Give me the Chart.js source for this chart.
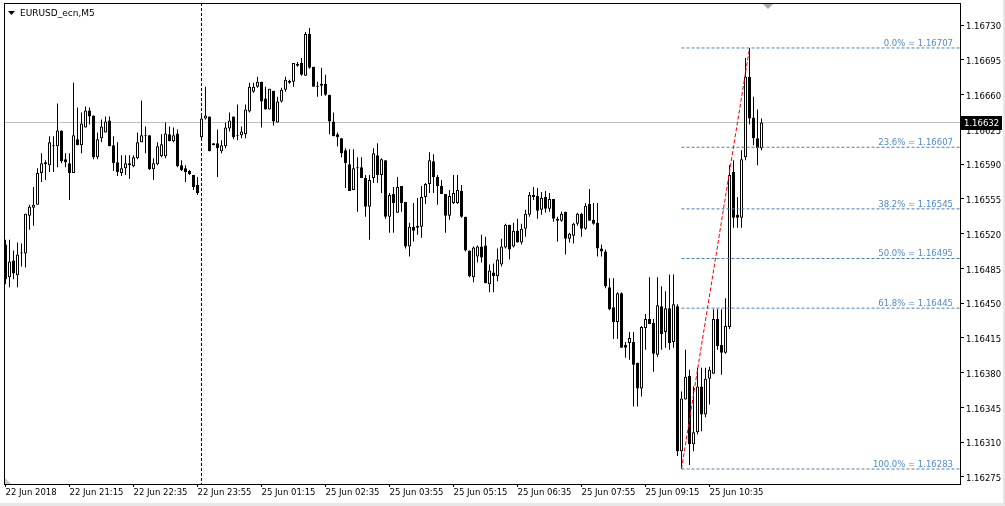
<!DOCTYPE html>
<html>
<head>
<meta charset="utf-8">
<script src="https://cdn.jsdelivr.net/npm/chart.js@4.4.1/dist/chart.umd.min.js"></script>
<style>
  html, body { margin: 0; padding: 0; background: #e6e6e6; }
  #wrap { position: absolute; left: 0; top: 0; width: 1003px; height: 503px; background: #fff; }
</style>
</head>
<body>
<div id="wrap"><canvas id="chart"></canvas></div>
<script>
const symbol = "EURUSD_ecn,M5";

// M5 bars, 22 Jun 19:55 .. 25 Jun 11:40
const open = [
  1.16509,1.16476,1.16493,1.16478,1.16501,1.16500,1.16538,1.16546,1.16549,1.16581,
  1.16590,1.16589,1.16609,1.16608,1.16624,1.16595,1.16591,1.16581,1.16615,1.16609,
  1.16627,1.16644,1.16639,1.16597,1.16616,1.16622,1.16634,1.16609,1.16592,1.16581,
  1.16586,1.16591,1.16588,1.16596,1.16612,1.16619,1.16619,1.16585,1.16590,1.16598,
  1.16598,1.16620,1.16613,1.16621,1.16589,1.16586,1.16583,1.16579,1.16569,1.16617,
  1.16636,1.16638,1.16611,1.16611,1.16603,1.16608,1.16626,1.16638,1.16619,1.16619,
  1.16620,1.16643,1.16663,1.16668,1.16673,1.16656,1.16645,1.16664,1.16632,1.16653,
  1.16665,1.16672,1.16673,1.16691,1.16692,1.16679,1.16721,1.16688,1.16669,1.16669,
  1.16671,1.16660,1.16633,1.16620,1.16616,1.16604,1.16590,1.16564,1.16587,1.16587,
  1.16576,1.16547,1.16576,1.16599,1.16579,1.16594,1.16537,1.16560,1.16541,1.16568,
  1.16552,1.16507,1.16527,1.16526,1.16527,1.16557,1.16570,1.16593,1.16577,1.16568,
  1.16560,1.16538,1.16551,1.16551,1.16563,1.16537,1.16503,1.16476,1.16497,1.16507,
  1.16508,1.16469,1.16481,1.16477,1.16489,1.16506,1.16529,1.16507,1.16523,1.16511,
  1.16525,1.16539,1.16557,1.16558,1.16544,1.16557,1.16545,1.16555,1.16535,1.16533,
  1.16542,1.16515,1.16518,1.16530,1.16540,1.16525,1.16550,1.16534,1.16531,1.16505,
  1.16502,1.16466,1.16446,1.16431,1.16460,1.16408,1.16410,1.16411,1.16390,1.16364,
  1.16425,1.16434,1.16430,1.16398,1.16447,1.16421,1.16445,1.16411,1.16447,1.16301,
  1.16353,1.16377,1.16308,1.16320,1.16366,1.16338,1.16374,1.16379,1.16434,1.16408,
  1.16400,1.16426,1.16582,1.16539,1.16536,1.16597,1.16678,1.16637,1.16616,1.16606
];
const high = [
  1.16514,1.16514,1.16503,1.16511,1.16510,1.16540,1.16549,1.16567,1.16586,1.16601,
  1.16594,1.16618,1.16618,1.16651,1.16624,1.16601,1.16601,1.16672,1.16647,1.16642,
  1.16648,1.16647,1.16639,1.16622,1.16635,1.16638,1.16638,1.16618,1.16612,1.16599,
  1.16599,1.16599,1.16599,1.16622,1.16654,1.16628,1.16619,1.16596,1.16612,1.16620,
  1.16632,1.16628,1.16627,1.16625,1.16594,1.16589,1.16584,1.16579,1.16577,1.16640,
  1.16668,1.16638,1.16611,1.16625,1.16614,1.16632,1.16642,1.16638,1.16650,1.16628,
  1.16650,1.16672,1.16672,1.16678,1.16673,1.16668,1.16666,1.16664,1.16658,1.16667,
  1.16678,1.16675,1.16692,1.16693,1.16697,1.16723,1.16727,1.16688,1.16673,1.16687,
  1.16680,1.16660,1.16642,1.16622,1.16616,1.16606,1.16605,1.16605,1.16597,1.16597,
  1.16579,1.16579,1.16606,1.16611,1.16596,1.16594,1.16561,1.16567,1.16577,1.16568,
  1.16552,1.16531,1.16551,1.16556,1.16568,1.16571,1.16602,1.16600,1.16579,1.16574,
  1.16560,1.16564,1.16579,1.16579,1.16569,1.16537,1.16503,1.16507,1.16508,1.16519,
  1.16517,1.16489,1.16490,1.16505,1.16515,1.16530,1.16529,1.16531,1.16535,1.16530,
  1.16544,1.16562,1.16567,1.16566,1.16562,1.16563,1.16561,1.16555,1.16537,1.16542,
  1.16542,1.16521,1.16531,1.16541,1.16541,1.16551,1.16565,1.16551,1.16551,1.16509,
  1.16504,1.16475,1.16475,1.16461,1.16461,1.16411,1.16421,1.16421,1.16390,1.16427,
  1.16439,1.16476,1.16434,1.16476,1.16467,1.16462,1.16479,1.16479,1.16449,1.16361,
  1.16403,1.16383,1.16366,1.16385,1.16385,1.16385,1.16386,1.16444,1.16444,1.16444,
  1.16455,1.16589,1.16594,1.16557,1.16604,1.16697,1.16707,1.16658,1.16645,1.16636
];
const low = [
  1.16469,1.16466,1.16474,1.16466,1.16487,1.16486,1.16524,1.16528,1.16549,1.16572,
  1.16574,1.16582,1.16582,1.16587,1.16591,1.16587,1.16554,1.16581,1.16609,1.16601,
  1.16627,1.16630,1.16595,1.16595,1.16612,1.16622,1.16608,1.16583,1.16578,1.16578,
  1.16579,1.16575,1.16587,1.16595,1.16612,1.16601,1.16584,1.16574,1.16589,1.16597,
  1.16596,1.16613,1.16612,1.16587,1.16583,1.16572,1.16579,1.16564,1.16559,1.16615,
  1.16635,1.16603,1.16609,1.16577,1.16601,1.16606,1.16623,1.16615,1.16614,1.16616,
  1.16616,1.16642,1.16662,1.16667,1.16627,1.16645,1.16645,1.16629,1.16632,1.16652,
  1.16663,1.16671,1.16668,1.16688,1.16679,1.16679,1.16686,1.16668,1.16658,1.16659,
  1.16659,1.16620,1.16618,1.16608,1.16597,1.16566,1.16563,1.16564,1.16542,1.16576,
  1.16537,1.16514,1.16571,1.16571,1.16561,1.16535,1.16521,1.16521,1.16541,1.16542,
  1.16505,1.16497,1.16512,1.16519,1.16516,1.16550,1.16561,1.16561,1.16549,1.16560,
  1.16521,1.16534,1.16550,1.16550,1.16536,1.16502,1.16476,1.16471,1.16491,1.16491,
  1.16470,1.16461,1.16461,1.16472,1.16487,1.16505,1.16494,1.16506,1.16511,1.16509,
  1.16517,1.16537,1.16554,1.16535,1.16539,1.16541,1.16542,1.16532,1.16512,1.16532,
  1.16499,1.16511,1.16510,1.16528,1.16517,1.16524,1.16533,1.16529,1.16497,1.16497,
  1.16465,1.16443,1.16414,1.16414,1.16405,1.16395,1.16393,1.16346,1.16346,1.16356,
  1.16403,1.16429,1.16381,1.16396,1.16403,1.16405,1.16403,1.16405,1.16296,1.16283,
  1.16353,1.16287,1.16301,1.16318,1.16321,1.16335,1.16348,1.16379,1.16403,1.16378,
  1.16399,1.16424,1.16526,1.16526,1.16526,1.16594,1.16630,1.16609,1.16589,1.16604
];
const close = [
  1.16474,1.16492,1.16480,1.16499,1.16500,1.16540,1.16547,1.16549,1.16581,1.16591,
  1.16592,1.16612,1.16608,1.16624,1.16593,1.16592,1.16581,1.16619,1.16609,1.16631,
  1.16644,1.16638,1.16597,1.16615,1.16628,1.16633,1.16608,1.16591,1.16582,1.16586,
  1.16591,1.16589,1.16597,1.16612,1.16619,1.16618,1.16585,1.16591,1.16608,1.16610,
  1.16621,1.16613,1.16619,1.16588,1.16584,1.16582,1.16580,1.16567,1.16561,1.16636,
  1.16639,1.16603,1.16609,1.16606,1.16609,1.16627,1.16634,1.16617,1.16618,1.16623,
  1.16645,1.16668,1.16668,1.16673,1.16653,1.16645,1.16666,1.16633,1.16653,1.16665,
  1.16675,1.16674,1.16692,1.16689,1.16680,1.16721,1.16687,1.16668,1.16668,1.16671,
  1.16660,1.16633,1.16618,1.16617,1.16601,1.16591,1.16563,1.16586,1.16586,1.16576,
  1.16547,1.16574,1.16601,1.16579,1.16595,1.16537,1.16559,1.16551,1.16567,1.16551,
  1.16507,1.16527,1.16523,1.16528,1.16557,1.16570,1.16594,1.16577,1.16568,1.16560,
  1.16538,1.16558,1.16561,1.16564,1.16537,1.16503,1.16477,1.16506,1.16507,1.16496,
  1.16470,1.16483,1.16477,1.16494,1.16507,1.16529,1.16504,1.16523,1.16511,1.16525,
  1.16540,1.16559,1.16559,1.16543,1.16556,1.16545,1.16555,1.16535,1.16533,1.16540,
  1.16515,1.16520,1.16530,1.16540,1.16525,1.16548,1.16533,1.16530,1.16505,1.16502,
  1.16467,1.16444,1.16431,1.16460,1.16405,1.16405,1.16415,1.16388,1.16364,1.16426,
  1.16434,1.16429,1.16399,1.16448,1.16419,1.16445,1.16410,1.16449,1.16301,1.16354,
  1.16376,1.16308,1.16320,1.16366,1.16338,1.16374,1.16383,1.16434,1.16407,1.16400,
  1.16427,1.16579,1.16536,1.16536,1.16595,1.16678,1.16636,1.16616,1.16606,1.16632
];

const timeTicks = [0, 16, 32, 48, 64, 80, 96, 112, 128, 144, 160, 176];
const timeLabels = [
  "22 Jun 2018", "22 Jun 21:15", "22 Jun 22:35", "22 Jun 23:55",
  "25 Jun 01:15", "25 Jun 02:35", "25 Jun 03:55", "25 Jun 05:15",
  "25 Jun 06:35", "25 Jun 07:55", "25 Jun 09:15", "25 Jun 10:35"
];
const dayBreak = 49; // first bar of 25 Jun

const priceTicks = [
  1.16275, 1.16310, 1.16345, 1.16380, 1.16415, 1.16450, 1.16485,
  1.16520, 1.16555, 1.16590, 1.16625, 1.16660, 1.16695, 1.16730
];

const fibPct = ["0.0%", "23.6%", "38.2%", "50.0%", "61.8%", "100.0%"];
const fibPrice = [1.16707, 1.16607, 1.16545, 1.16495, 1.16445, 1.16283];
const fibFrom = 169; // bar of the low
const fibTo = 186;   // bar of the high

const X_MIN = -0.375, X_MAX = 238.625;
const Y_MIN = 1.162679, Y_MAX = 1.167523;
const FONT = "'DejaVu Sans', sans-serif";
const last = close.length - 1;

const bodies = open.map((o, i) => ({ x: i, y: [Math.min(o, close[i]), Math.max(o, close[i])] }));
const wicks = open.map((o, i) => ({ x: i, y: [low[i], high[i]] }));
const bodyFill = open.map((o, i) => close[i] >= o ? '#ffffff' : '#000000');

const datasets = [
  {
    type: 'line', order: 0,
    data: [{ x: fibFrom, y: low[fibFrom] }, { x: fibTo, y: high[fibTo] }],
    borderColor: '#ff0000', borderWidth: 1, borderDash: [4, 2],
    pointRadius: 0, fill: false
  },
  ...fibPrice.map(p => ({
    type: 'line', order: 0,
    data: [{ x: fibFrom, y: p }, { x: X_MAX, y: p }],
    borderColor: '#4a7fb3', borderWidth: 1, borderDash: [3, 2],
    pointRadius: 0, fill: false
  })),
  {
    order: 1, data: bodies, grouped: false, barThickness: 3, inflateAmount: 0,
    backgroundColor: bodyFill, borderColor: '#000', borderWidth: 1,
    borderSkipped: false, minBarLength: 1
  },
  {
    order: 2, data: wicks, grouped: false, barThickness: 1, inflateAmount: 0,
    backgroundColor: '#000', borderWidth: 0
  }
];

const mt4Decor = {
  id: 'mt4Decor',
  beforeDraw(chart) {
    const ctx = chart.ctx;
    ctx.save();
    ctx.fillStyle = '#fff';
    ctx.fillRect(0, 0, chart.width, chart.height);
    ctx.restore();
  },
  beforeDatasetsDraw(chart) {
    const { ctx, chartArea: a, scales: { x, y } } = chart;
    ctx.save();
    // bid line
    const py = Math.floor(y.getPixelForValue(close[last])) + 0.5;
    ctx.strokeStyle = '#c0c0c0';
    ctx.lineWidth = 1;
    ctx.beginPath(); ctx.moveTo(a.left, py); ctx.lineTo(a.right, py); ctx.stroke();
    // period separator
    const sx = Math.floor(x.getPixelForValue(dayBreak)) + 0.5;
    ctx.strokeStyle = '#000';
    ctx.setLineDash([3, 2]);
    ctx.beginPath(); ctx.moveTo(sx, a.top); ctx.lineTo(sx, a.bottom); ctx.stroke();
    ctx.restore();
  },
  afterDraw(chart) {
    const { ctx, chartArea: a, scales: { y } } = chart;
    ctx.save();
    // frame
    ctx.strokeStyle = '#000';
    ctx.lineWidth = 1;
    ctx.strokeRect(a.left + 0.5, a.top + 0.5, a.right - a.left, a.bottom - a.top);

    // fibo labels
    ctx.font = '8.5px ' + FONT;
    ctx.fillStyle = '#4f8bc9';
    ctx.textAlign = 'right';
    ctx.textBaseline = 'alphabetic';
    fibPrice.forEach((p, k) => {
      const fy = y.getPixelForValue(p);
      ctx.fillText(fibPct[k] + ' = ' + p.toFixed(5), a.right - 7, fy - 2);
    });

    // title
    ctx.fillStyle = '#000';
    ctx.beginPath();
    ctx.moveTo(8, 11); ctx.lineTo(15, 11); ctx.lineTo(11.5, 15); ctx.closePath(); ctx.fill();
    ctx.font = '9px ' + FONT;
    ctx.textAlign = 'left';
    ctx.textBaseline = 'middle';
    ctx.fillText(symbol, 20, 13.5);

    // bid label
    ctx.font = '8.5px ' + FONT;
    const py = Math.floor(y.getPixelForValue(close[last]));
    ctx.fillStyle = '#000';
    ctx.fillRect(a.right + 1, py - 6, chart.width - a.right - 2, 14);
    ctx.fillStyle = '#fff';
    ctx.fillText(close[last].toFixed(5), a.right + 4, py + 1.5);

    // shift marker and scroll corner
    ctx.fillStyle = '#a8a8a8';
    ctx.beginPath();
    ctx.moveTo(763, a.top + 1); ctx.lineTo(773, a.top + 1); ctx.lineTo(768, a.top + 6); ctx.closePath(); ctx.fill();
    ctx.fillStyle = '#c8c8c8';
    ctx.beginPath();
    ctx.moveTo(a.left + 1, a.bottom - 6); ctx.lineTo(a.left + 1, a.bottom); ctx.lineTo(a.left + 7, a.bottom); ctx.closePath(); ctx.fill();
    ctx.restore();
  }
};

new Chart(document.getElementById('chart'), {
  type: 'bar',
  data: { datasets: datasets },
  plugins: [mt4Decor],
  options: {
    responsive: true,
    maintainAspectRatio: false,
    animation: false,
    events: [],
    layout: { padding: { left: 4, top: 3, right: 0, bottom: 0 } },
    plugins: { legend: { display: false }, tooltip: { enabled: false } },
    scales: {
      x: {
        type: 'linear', min: X_MIN, max: X_MAX, offset: false, bounds: 'data',
        grid: { display: true, drawOnChartArea: false, drawTicks: true, tickLength: 3, color: '#000', offset: false },
        border: { display: false },
        afterBuildTicks: s => { s.ticks = timeTicks.map(v => ({ value: v })); },
        afterFit: s => { s.height = 19; s.paddingLeft = 0; s.paddingRight = 0; },
        ticks: {
          autoSkip: false, maxRotation: 0, minRotation: 0, align: 'start', padding: 1,
          color: '#000', font: { family: FONT, size: 8.5 },
          callback: (v, idx) => timeLabels[idx]
        }
      },
      y: {
        type: 'linear', position: 'right', min: Y_MIN, max: Y_MAX, bounds: 'data',
        grid: { display: true, drawOnChartArea: false, drawTicks: true, tickLength: 4, color: '#000' },
        border: { display: false },
        afterBuildTicks: s => { s.ticks = priceTicks.map(v => ({ value: v })); },
        afterFit: s => { s.width = 43; s.paddingTop = 0; s.paddingBottom = 0; },
        ticks: {
          padding: 2, labelOffset: 2, color: '#000', font: { family: FONT, size: 8.5 },
          callback: v => v.toFixed(5)
        }
      }
    }
  }
});
</script>
</body>
</html>
